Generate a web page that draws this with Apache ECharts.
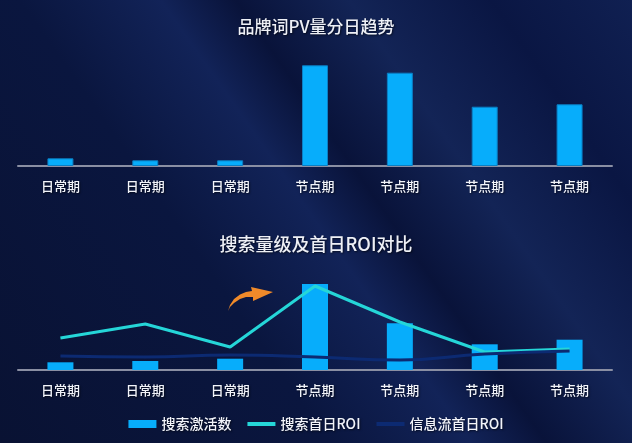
<!DOCTYPE html>
<html>
<head>
<meta charset="utf-8">
<script src="https://cdn.jsdelivr.net/npm/echarts@6/dist/echarts.min.js"></script>
<style>
  html, body { margin: 0; padding: 0; background: #0a1540; }
  #main { width: 632px; height: 443px; }
</style>
</head>
<body>
<div id="main"></div>
<script>
// 数据
var categories = ['日常期', '日常期', '日常期', '节点期', '节点期', '节点期', '节点期'];
var pvData = [77, 57, 57, 1007, 933, 593, 617];
var activateData = [770, 900, 1130, 8600, 4670, 2570, 3030];
var searchRoi = [0.32, 0.46, 0.23, 0.84, 0.48, 0.18, 0.21];
var feedRoi = [0.14, 0.13, 0.15, 0.13, 0.10, 0.16, 0.19];

var font = '"Noto Sans CJK SC", "Noto Sans", sans-serif';
var barColor = '#07adfb';
var textShadow = { textShadowColor: 'rgba(0,0,0,0.6)', textShadowBlur: 2, textShadowOffsetX: 1, textShadowOffsetY: 1 };

function makeXAxis(idx) {
    return {
        type: 'category',
        gridIndex: idx,
        data: categories,
        axisTick: { show: false },
        axisLine: { lineStyle: { color: '#8a8fa3', width: 2 } },
        axisLabel: Object.assign({ color: '#f2f4fa', fontSize: 13, fontWeight: 500, margin: 14, fontFamily: font }, textShadow)
    };
}

var chart = echarts.init(document.getElementById('main'));
var option = {
    backgroundColor: new echarts.graphic.LinearGradient(0, 1, 1, 0, [
        { offset: 0, color: '#091233' },
        { offset: 0.35, color: '#0a163f' },
        { offset: 0.5, color: '#122358' },
        { offset: 0.58, color: '#09133a' },
        { offset: 0.7, color: '#132456' },
        { offset: 0.85, color: '#0a1643' },
        { offset: 1, color: '#102052' }
    ]),
    title: [
        {
            text: '品牌词PV量分日趋势',
            left: 'center',
            top: 13,
            textStyle: Object.assign({ color: '#eef0f6', fontSize: 17, fontWeight: 500, fontFamily: font }, textShadow)
        },
        {
            text: '搜索量级及首日ROI对比',
            left: 'center',
            top: 230,
            textStyle: Object.assign({ color: '#eef0f6', fontSize: 18, fontWeight: 500, fontFamily: font }, textShadow)
        }
    ],
    legend: {
        bottom: 7,
        left: 'center',
        itemWidth: 28,
        itemHeight: 8,
        itemGap: 14,
        textStyle: Object.assign({ color: '#f2f4fa', fontSize: 14, fontWeight: 500, fontFamily: font }, textShadow),
        data: [
            { name: '搜索激活数', icon: 'rect' },
            { name: '搜索首日ROI', itemStyle: { opacity: 0 }, lineStyle: { width: 4 } },
            { name: '信息流首日ROI', itemStyle: { opacity: 0 }, lineStyle: { width: 4 } }
        ]
    },
    grid: [
        { left: 18, right: 20, top: 59, bottom: 277 },
        { left: 18, right: 20, top: 270, bottom: 73 }
    ],
    xAxis: [makeXAxis(0), makeXAxis(1)],
    yAxis: [
        { gridIndex: 0, min: 0, max: 1070, show: false },
        { gridIndex: 1, min: 0, max: 10000, show: false },
        { gridIndex: 1, min: 0, max: 1, show: false }
    ],
    series: [
        {
            name: '品牌词PV',
            type: 'bar',
            xAxisIndex: 0,
            yAxisIndex: 0,
            barWidth: 26,
            data: pvData,
            itemStyle: { color: barColor, borderColor: '#0b7fc4', borderWidth: 1 }
        },
        {
            name: '搜索激活数',
            type: 'bar',
            xAxisIndex: 1,
            yAxisIndex: 1,
            barWidth: 26,
            data: activateData,
            itemStyle: { color: barColor }
        },
        {
            name: '搜索首日ROI',
            type: 'line',
            xAxisIndex: 1,
            yAxisIndex: 2,
            symbol: 'none',
            data: searchRoi,
            lineStyle: { color: '#25d6d8', width: 3 },
            itemStyle: { color: '#25d6d8' }
        },
        {
            name: '信息流首日ROI',
            type: 'line',
            xAxisIndex: 1,
            yAxisIndex: 2,
            symbol: 'none',
            smooth: true,
            data: feedRoi,
            lineStyle: { color: '#0c2a72', width: 3 },
            itemStyle: { color: '#0c2a72' }
        }
    ],
    // 橙色箭头装饰
    graphic: [
        {
            type: 'polygon',
            shape: {
                points: [[228, 311], [230, 305], [234, 299], [240, 294.5], [246, 292], [252, 291],
                         [251, 287], [273, 292], [253, 301], [253, 297], [246, 297], [240, 299],
                         [234, 303], [230, 307]]
            },
            style: { fill: '#f08a2a' }
        }
    ]
};
chart.setOption(option);
</script>
</body>
</html>
